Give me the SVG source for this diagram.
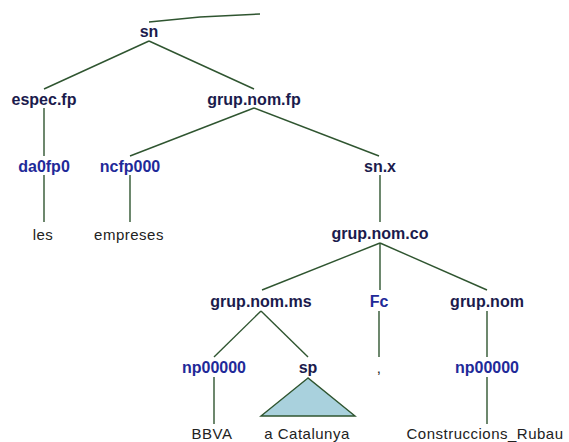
<svg xmlns="http://www.w3.org/2000/svg" width="569" height="442" viewBox="0 0 569 442">
<style>
.e{stroke:#2f5530;stroke-width:1.4;fill:none}
.n{font-family:"Liberation Sans",Arial,sans-serif;font-weight:bold;font-size:16px;fill:#1b1b4d;text-anchor:middle}
.p{font-family:"Liberation Sans",Arial,sans-serif;font-weight:bold;font-size:16px;fill:#1f2a99;text-anchor:middle}
.w{font-family:"Liberation Sans",Arial,sans-serif;font-size:15px;fill:#222;text-anchor:middle;letter-spacing:0.5px}
</style>
<rect width="569" height="442" fill="#fff"/>
<g id="connectors">
<polyline class="e" points="149,22 200,17 260,14"/>
<line class="e" x1="149" y1="41" x2="44" y2="89"/>
<line class="e" x1="149" y1="41" x2="254" y2="89"/>
<line class="e" x1="44" y1="108" x2="44" y2="156"/>
<line class="e" x1="254" y1="108" x2="130" y2="156"/>
<line class="e" x1="254" y1="108" x2="379" y2="156"/>
<line class="e" x1="44" y1="175" x2="44" y2="222"/>
<line class="e" x1="130" y1="175" x2="130" y2="222"/>
<line class="e" x1="380" y1="175" x2="380" y2="222"/>
<line class="e" x1="380" y1="243" x2="262" y2="290"/>
<line class="e" x1="380" y1="243" x2="380" y2="290"/>
<line class="e" x1="380" y1="243" x2="487" y2="290"/>
<line class="e" x1="261" y1="311" x2="214" y2="357"/>
<line class="e" x1="261" y1="311" x2="308" y2="357"/>
<line class="e" x1="379" y1="311" x2="379" y2="357"/>
<line class="e" x1="487" y1="311" x2="487" y2="357"/>
<line class="e" x1="214" y1="377" x2="214" y2="424"/>
<line class="e" x1="487" y1="377" x2="487" y2="424"/>
</g>
<g id="sn"><text class="n" x="149" y="37">sn</text></g>
<g id="espec.fp"><text class="n" x="44" y="105">espec.fp</text></g>
<g id="grup.nom.fp"><text class="n" x="254" y="105">grup.nom.fp</text></g>
<g id="da0fp0"><text class="p" x="44" y="172">da0fp0</text></g>
<g id="ncfp000"><text class="p" x="130" y="172">ncfp000</text></g>
<g id="sn.x"><text class="n" x="380" y="172">sn.x</text></g>
<g id="les"><text class="w" x="43" y="240">les</text></g>
<g id="empreses"><text class="w" x="129" y="240">empreses</text></g>
<g id="grup.nom.co"><text class="n" x="380" y="239">grup.nom.co</text></g>
<g id="grup.nom.ms"><text class="n" x="261" y="307">grup.nom.ms</text></g>
<g id="Fc"><text class="p" x="379" y="307">Fc</text></g>
<g id="grup.nom"><text class="n" x="487" y="307">grup.nom</text></g>
<g id="np00000a"><text class="p" x="214" y="373">np00000</text></g>
<g id="sp"><text class="n" x="308" y="373">sp</text>
<polygon points="308,378 261,416 355,416" fill="#a9d1dd" stroke="#2f5530" stroke-width="1.4"/></g>
<g id="comma"><text class="w" x="379" y="373">,</text></g>
<g id="np00000b"><text class="p" x="487" y="373">np00000</text></g>
<g id="BBVA"><text class="w" x="212" y="439">BBVA</text></g>
<g id="aCatalunya"><text class="w" x="307" y="439">a Catalunya</text></g>
<g id="Construccions_Rubau"><text class="w" x="485" y="439">Construccions_Rubau</text></g>
</svg>
